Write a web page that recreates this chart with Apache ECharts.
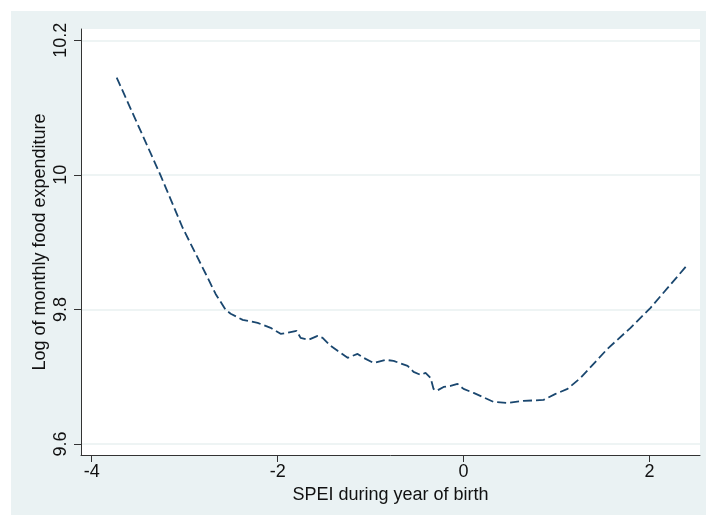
<!DOCTYPE html>
<html>
<head>
<meta charset="utf-8">
<script src="https://cdn.jsdelivr.net/npm/echarts@6/dist/echarts.min.js"></script>
<style>
  html, body { margin: 0; padding: 0; background: #ffffff; }
  #bg { position: absolute; left: 11px; top: 11px; width: 695px; height: 504px; background: #EAF2F3; }
  #chart { position: absolute; left: 0; top: 0; width: 706px; height: 515px; }
</style>
</head>
<body>
<div id="bg"></div>
<div id="chart"></div>
<script>
// SPEI (x) and fitted log monthly food expenditure (y)
const speiValues = [-3.731, -3.258, -3.022, -2.774, -2.667, -2.559, -2.505, -2.376, -2.215, -2.075,
  -1.968, -1.892, -1.796, -1.753, -1.667, -1.570, -1.516, -1.430, -1.355, -1.247,
  -1.140, -1.075, -0.968, -0.839, -0.753, -0.602, -0.538, -0.462, -0.409, -0.355,
  -0.323, -0.290, -0.215, -0.140, -0.065, 0.000, 0.108, 0.204, 0.323, 0.473,
  0.645, 0.860, 0.989, 1.118, 1.258, 1.548, 1.796, 2.011, 2.409];
const foodValues = [10.1446, 9.9988, 9.9214, 9.853, 9.823, 9.7994, 9.7935, 9.7845, 9.780, 9.7726,
  9.7637, 9.7652, 9.7682, 9.7577, 9.7548, 9.7607, 9.7577, 9.7458, 9.7384, 9.728,
  9.7339, 9.728, 9.7205, 9.725, 9.7235, 9.7161, 9.7071, 9.7027, 9.7057, 9.6982,
  9.6818, 9.6789, 9.6848, 9.6863, 9.6893, 9.6818, 9.6759, 9.670, 9.6625, 9.661,
  9.664, 9.6655, 9.6744, 9.6818, 9.6982, 9.7414, 9.7726, 9.8024, 9.8664];
const xTicks = [-4, -2, 0, 2];
const yTicks = [9.6, 9.8, 10, 10.2];

const points = speiValues.map((x, i) => [x, foodValues[i]]);
const font = '"Liberation Sans", Arial, Helvetica, sans-serif';
const chart = echarts.init(document.getElementById('chart'));
chart.setOption({
  backgroundColor: 'transparent',
  animation: false,
  grid: { left: 81, top: 29, right: 6, bottom: 60, containLabel: false,
          show: true, backgroundColor: '#ffffff', borderWidth: 0 },
  xAxis: {
    type: 'value', min: -4.115, max: 2.543,
    name: 'SPEI during year of birth', nameLocation: 'middle', nameGap: 30,
    nameTextStyle: { fontFamily: font, fontSize: 18, color: '#111' },
    axisLine: { show: true, onZero: false, lineStyle: { color: '#333', width: 1 } },
    axisTick: { show: true, length: 7, customValues: xTicks, lineStyle: { color: '#333' } },
    axisLabel: { customValues: xTicks, margin: 8, fontFamily: font, fontSize: 18, color: '#111' },
    splitLine: { show: false }
  },
  yAxis: {
    type: 'value', min: 9.5836, max: 10.2168,
    name: 'Log of monthly food expenditure', nameLocation: 'middle', nameGap: 32, nameRotate: 90,
    nameMoveOverlap: false,
    nameTextStyle: { fontFamily: font, fontSize: 18, color: '#111' },
    axisLine: { show: true, onZero: false, lineStyle: { color: '#333', width: 1 } },
    axisTick: { show: true, length: 7, customValues: yTicks, lineStyle: { color: '#333' } },
    axisLabel: { customValues: yTicks, rotate: 90, margin: 11, fontFamily: font, fontSize: 18, color: '#111' },
    splitLine: { show: true, lineStyle: { color: '#E8F0F1', width: 1.5 } }
  },
  series: [{
    type: 'line', data: points, showSymbol: false, smooth: false,
    lineStyle: { color: '#1a476f', width: 1.8, type: [9, 4] }
  }]
});
</script>
</body>
</html>
